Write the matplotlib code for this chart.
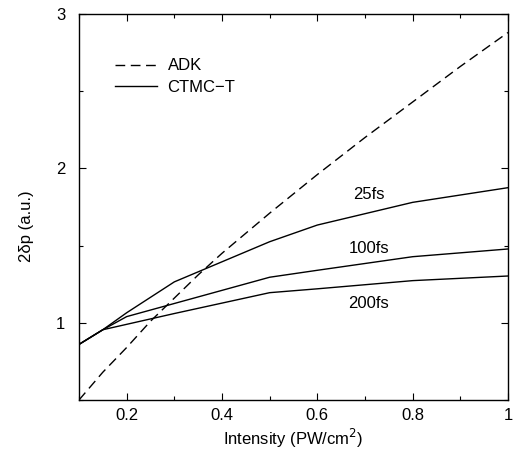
import matplotlib

matplotlib.use("Agg")
import matplotlib.pyplot as plt
from matplotlib.ticker import MultipleLocator

plt.rcParams["font.family"] = ["Liberation Sans", "DejaVu Sans"]

# ADK prediction (smooth curve)
adk_x = [0.1, 0.15, 0.2, 0.25, 0.3, 0.35, 0.4, 0.5, 0.6, 0.7, 0.8, 0.9, 1.0]
adk_y = [0.50, 0.68, 0.84, 1.01, 1.16, 1.31, 1.45, 1.71, 1.96, 2.20, 2.43, 2.66, 2.88]

# CTMC-T results for three pulse durations
ctmc_x = [0.1, 0.15, 0.2, 0.3, 0.5, 0.6, 0.8, 1.0]
ctmc_25fs = [0.86, 0.955, 1.065, 1.265, 1.525, 1.633, 1.78, 1.875]
ctmc_100fs = [0.86, 0.955, 1.04, 1.125, 1.295, 1.34, 1.428, 1.478]
ctmc_200fs = [0.86, 0.955, 0.99, 1.06, 1.195, 1.22, 1.273, 1.303]

labels = ["25fs", "100fs", "200fs"]
label_pos = [(0.708, 1.828), (0.708, 1.484), (0.708, 1.122)]

FS = 12

fig = plt.figure(figsize=(5.15, 4.55), dpi=100)
ax = fig.add_axes([0.1534, 0.1209, 0.833, 0.8484])

ax.plot(adk_x, adk_y, color="black", lw=1.0, ls=(0, (7, 4)), label="ADK")
ax.plot(ctmc_x, ctmc_25fs, color="black", lw=1.0, label="CTMC\u2212T")
ax.plot(ctmc_x, ctmc_100fs, color="black", lw=1.0)
ax.plot(ctmc_x, ctmc_200fs, color="black", lw=1.0)

for text, (tx, ty) in zip(labels, label_pos):
    ax.text(tx, ty, text, ha="center", va="center", fontsize=FS)

ax.set_xlim(0.1, 1.0)
ax.set_ylim(0.5, 3.0)
ax.xaxis.set_minor_locator(MultipleLocator(0.1))
ax.yaxis.set_minor_locator(MultipleLocator(0.5))
ax.set_xticks([0.2, 0.4, 0.6, 0.8, 1.0])
ax.set_xticklabels(["0.2", "0.4", "0.6", "0.8", "1"])
ax.set_yticks([1, 2, 3])
ax.set_yticklabels(["1", "2", "3"])

ax.tick_params(which="both", direction="in", top=True, right=True,
               labelsize=FS, width=0.8)
ax.tick_params(which="major", length=5)
ax.tick_params(which="minor", length=3)
ax.tick_params(axis="x", which="major", pad=6)
ax.tick_params(axis="y", which="major", pad=10)
for s in ax.spines.values():
    s.set_linewidth(1.0)

ax.set_xlabel("Intensity (PW/cm$^2$)", fontsize=FS)
ax.set_ylabel("2\u03b4p (a.u.)", fontsize=FS)
ax.xaxis.set_label_coords(0.5, -0.071)
ax.yaxis.set_label_coords(-0.105, 0.45)

ax.legend(loc="upper left", bbox_to_anchor=(0.068, 0.902), frameon=False,
          fontsize=FS, handlelength=2.5, handletextpad=0.66, labelspacing=0.4,
          borderaxespad=0)

fig.savefig("out.png", dpi=100)
